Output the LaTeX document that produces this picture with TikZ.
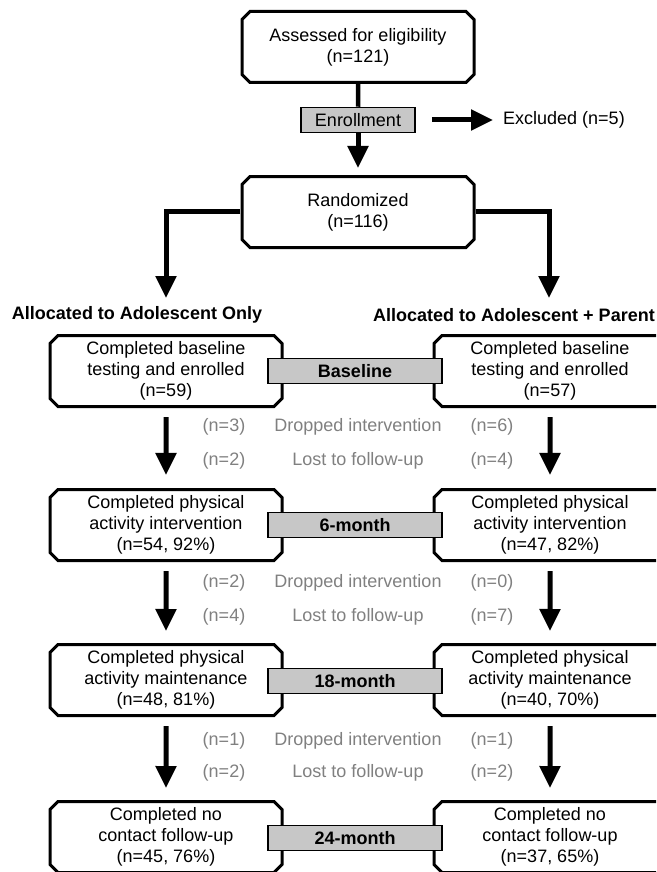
\documentclass[tikz,border=0pt]{standalone}
\usepackage{fontspec}
\setmainfont{Liberation Sans}
\usepackage{tikz}
\usetikzlibrary{arrows.meta,positioning,shapes.misc}

\definecolor{bargray}{gray}{0.78}
\definecolor{notegray}{gray}{0.5}

\begin{document}
\begin{tikzpicture}
	% Styles
	[
	x=1pt, y=-1pt,
	font=\fontsize{18}{21}\selectfont,
	stage/.style={chamfered rectangle, chamfered rectangle xsep=4pt, chamfered rectangle ysep=4pt, draw=black, fill=white, line width=3pt, align=center, inner sep=1pt, minimum width=232pt, minimum height=71pt},
	period/.style={rectangle, draw=black, fill=bargray, line width=1.5pt, inner sep=0pt, minimum width=174pt, minimum height=25pt, font=\fontsize{18}{21}\selectfont\bfseries},
	note/.style={text=notegray, inner sep=0pt},
	heading/.style={inner sep=0pt, font=\fontsize{18}{21}\selectfont\bfseries},
	flow/.style={line width=5pt, -{Triangle[width=20pt,length=22pt]}},
	link/.style={line width=4.5pt},
	]

	\useasboundingbox (0,0) rectangle (656,872);
	\clip (0,0) rectangle (656,872);

	% Nodes
	\node at (358,47)	(assess)	[stage] {Assessed for eligibility\\(n=121)};
	\node at (358,120)	(enroll)	[period, minimum width=114pt, font=\fontsize{18}{21}\selectfont] {Enrollment};
	\node at (500,120)	(excl)	[anchor=west, inner sep=3pt] {Excluded (n=5)};
	\node at (358,212)	(rand)	[stage] {Randomized\\(n=116)};

	\coordinate (armL) at (166,298);
	\coordinate (armR) at (549,298);
	\node at (137,315)	(hdrL)	[heading] {Allocated to Adolescent Only};
	\node at (373,315)	(hdrR)	[heading, anchor=west] {Allocated to Adolescent + Parent};

	\node at (166,371)	(baseL)	[stage] {Completed baseline\\testing and enrolled\\(n=59)};
	\node at (550,371)	(baseR)	[stage] {Completed baseline\\testing and enrolled\\(n=57)};
	\node at (355,371)	(base)	[period] {Baseline};

	\node at (224,427)	(dropAL)	[note] {(n=3)};
	\node at (358,427)	(dropA)	[note] {Dropped intervention};
	\node at (492,427)	(dropAR)	[note] {(n=6)};
	\node at (224,461)	(lostAL)	[note] {(n=2)};
	\node at (358,461)	(lostA)	[note] {Lost to follow-up};
	\node at (492,461)	(lostAR)	[note] {(n=4)};

	\node at (166,525)	(sixL)	[stage] {Completed physical\\activity intervention\\(n=54, 92\%)};
	\node at (550,525)	(sixR)	[stage] {Completed physical\\activity intervention\\(n=47, 82\%)};
	\node at (355,525)	(six)	[period] {6-month};

	\node at (224,583)	(dropBL)	[note] {(n=2)};
	\node at (358,583)	(dropB)	[note] {Dropped intervention};
	\node at (492,583)	(dropBR)	[note] {(n=0)};
	\node at (224,617)	(lostBL)	[note] {(n=4)};
	\node at (358,617)	(lostB)	[note] {Lost to follow-up};
	\node at (492,617)	(lostBR)	[note] {(n=7)};

	\node at (166,680)	(eighteenL)	[stage] {Completed physical\\activity maintenance\\(n=48, 81\%)};
	\node at (550,680)	(eighteenR)	[stage] {Completed physical\\activity maintenance\\(n=40, 70\%)};
	\node at (355,681)	(eighteen)	[period] {18-month};

	\node at (224,741)	(dropCL)	[note] {(n=1)};
	\node at (358,741)	(dropC)	[note] {Dropped intervention};
	\node at (492,741)	(dropCR)	[note] {(n=1)};
	\node at (224,773)	(lostCL)	[note] {(n=2)};
	\node at (358,773)	(lostC)	[note] {Lost to follow-up};
	\node at (492,773)	(lostCR)	[note] {(n=2)};

	\node at (166,837)	(twentyfourL)	[stage] {Completed no\\contact follow-up\\(n=45, 76\%)};
	\node at (550,837)	(twentyfourR)	[stage] {Completed no\\contact follow-up\\(n=37, 65\%)};
	\node at (355,838)	(twentyfour)	[period] {24-month};

	% Connections
	\draw[link] (assess) -- (enroll);
	\draw[flow, shorten >=7pt] (enroll) -- (rand);
	\draw[flow, shorten <=16pt, shorten >=7pt] (enroll) -- (excl);
	\draw[flow] (rand) -| (armL);
	\draw[flow] (rand) -| (armR);

	\draw[flow, shorten <=9pt, shorten >=13pt] (baseL) -- (sixL);
	\draw[flow, shorten <=9pt, shorten >=13pt] (baseR) -- (sixR);
	\draw[flow, shorten <=9pt, shorten >=12pt] (sixL) -- (eighteenL);
	\draw[flow, shorten <=9pt, shorten >=12pt] (sixR) -- (eighteenR);
	\draw[flow, shorten <=9pt, shorten >=12pt] (eighteenL) -- (twentyfourL);
	\draw[flow, shorten <=9pt, shorten >=12pt] (eighteenR) -- (twentyfourR);

\end{tikzpicture}
\end{document}
